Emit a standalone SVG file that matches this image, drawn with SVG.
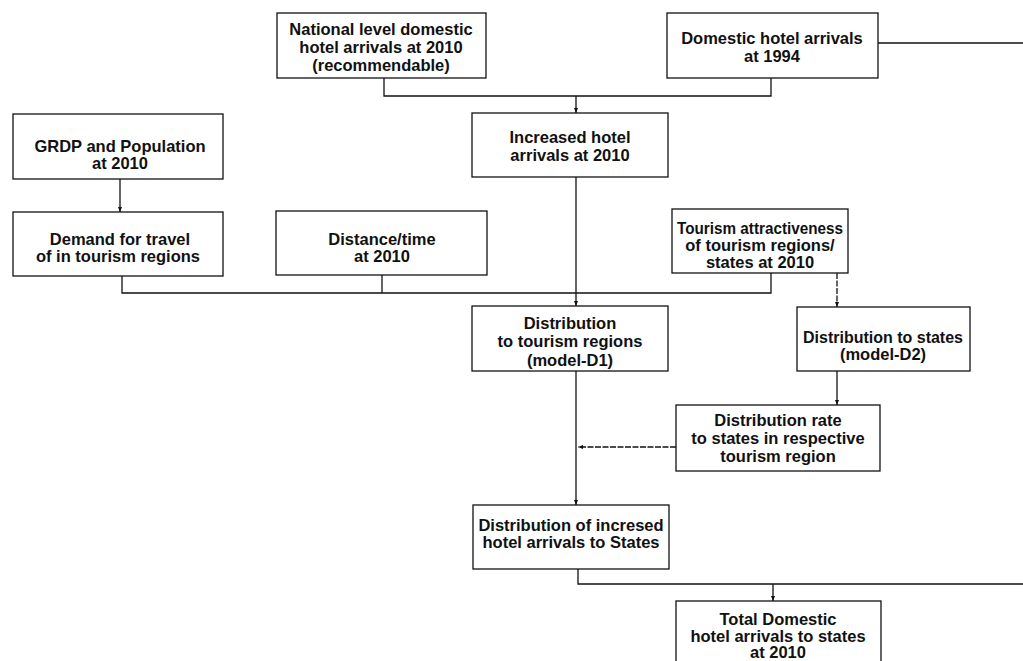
<svg xmlns="http://www.w3.org/2000/svg" width="1023" height="661" viewBox="0 0 1023 661">
<defs>
<marker id="ah" viewBox="0 0 10 10" refX="10" refY="5" markerWidth="5" markerHeight="6" orient="auto" markerUnits="userSpaceOnUse">
<path d="M0,1 L10,5 L0,9 Z" fill="#111"/>
</marker>
<style>
.box{fill:#fff;stroke:#111;stroke-width:1.3}
.t{font-family:"Liberation Sans",Arial,sans-serif;font-weight:bold;font-size:16.5px;fill:#111;text-anchor:middle}
.c{fill:none;stroke:#111;stroke-width:1.3}
.a{fill:none;stroke:#111;stroke-width:1.3;marker-end:url(#ah)}
.d{fill:none;stroke:#111;stroke-width:1.3;stroke-dasharray:6 1.5;marker-end:url(#ah)}
</style>
</defs>
<rect width="1023" height="661" fill="#fff"/>
<g id="connectors">
<path class="c" d="M384,78 V96 H771 V78"/>
<path class="a" d="M576,96 V113"/>
<path class="c" d="M878,43 H1023"/>
<path class="a" d="M120,179 V212"/>
<path class="c" d="M122,276 V293 H771 V273"/>
<path class="c" d="M382,275 V293"/>
<path class="a" d="M576,177 V306"/>
<path class="d" d="M837,273 V307"/>
<path class="a" d="M837,371 V405"/>
<path class="d" d="M676,447 H578"/>
<path class="a" d="M576,371 V505"/>
<path class="c" d="M578,569 V584 H1023"/>
<path class="a" d="M773,584 V601"/>
</g>
<g id="n_national">
<rect class="box" x="277" y="13" width="209" height="65"/>
<text class="t" x="381" y="35">National level domestic</text>
<text class="t" x="381" y="53">hotel arrivals at 2010</text>
<text class="t" x="381" y="71">(recommendable)</text>
</g>
<g id="n_domestic1994">
<rect class="box" x="667" y="13" width="211" height="65"/>
<text class="t" x="772" y="44">Domestic hotel arrivals</text>
<text class="t" x="772" y="62">at 1994</text>
</g>
<g id="n_increased">
<rect class="box" x="472" y="113" width="196" height="64"/>
<text class="t" x="570" y="143">Increased hotel</text>
<text class="t" x="570" y="161">arrivals at 2010</text>
</g>
<g id="n_grdp">
<rect class="box" x="13" y="114" width="210" height="65"/>
<text class="t" x="120" y="152">GRDP and Population</text>
<text class="t" x="120" y="169">at 2010</text>
</g>
<g id="n_demand">
<rect class="box" x="13" y="212" width="210" height="64"/>
<text class="t" x="120" y="245">Demand for travel</text>
<text class="t" x="118" y="262">of in tourism regions</text>
</g>
<g id="n_distance">
<rect class="box" x="276" y="211" width="211" height="64"/>
<text class="t" x="382" y="245">Distance/time</text>
<text class="t" x="382" y="262">at 2010</text>
</g>
<g id="n_attract">
<rect class="box" x="672" y="209" width="176" height="64"/>
<text class="t" x="760" y="234" textLength="166" lengthAdjust="spacingAndGlyphs">Tourism attractiveness</text>
<text class="t" x="760" y="251">of tourism regions/</text>
<text class="t" x="760" y="268">states at 2010</text>
</g>
<g id="n_distregions">
<rect class="box" x="472" y="306" width="196" height="65"/>
<text class="t" x="570" y="329">Distribution</text>
<text class="t" x="570" y="347">to tourism regions</text>
<text class="t" x="570" y="366">(model-D1)</text>
</g>
<g id="n_diststates">
<rect class="box" x="797" y="307" width="173" height="64"/>
<text class="t" x="883" y="343" textLength="160" lengthAdjust="spacingAndGlyphs">Distribution to states</text>
<text class="t" x="883" y="360">(model-D2)</text>
</g>
<g id="n_distrate">
<rect class="box" x="676" y="405" width="204" height="66"/>
<text class="t" x="778" y="426">Distribution rate</text>
<text class="t" x="778" y="444">to states in respective</text>
<text class="t" x="778" y="462">tourism region</text>
</g>
<g id="n_distincreased">
<rect class="box" x="473" y="505" width="196" height="64"/>
<text class="t" x="571" y="531">Distribution of incresed</text>
<text class="t" x="571" y="548">hotel arrivals to States</text>
</g>
<g id="n_total">
<rect class="box" x="676" y="601" width="205" height="75"/>
<text class="t" x="778" y="625">Total  Domestic</text>
<text class="t" x="778" y="642">hotel arrivals to states</text>
<text class="t" x="778" y="658">at 2010</text>
</g>
</svg>
